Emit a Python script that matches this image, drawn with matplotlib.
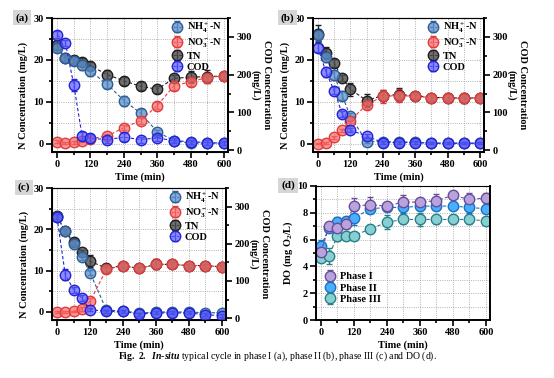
import matplotlib.pyplot as plt
from matplotlib.ticker import MultipleLocator

plt.rcParams['font.family'] = ['Liberation Serif', 'DejaVu Serif']
plt.rcParams['font.weight'] = 'bold'
plt.rcParams['axes.labelweight'] = 'bold'
plt.rcParams['font.size'] = 7.5
plt.rcParams['mathtext.fontset'] = 'custom'
plt.rcParams['mathtext.rm'] = 'Liberation Serif:bold'
plt.rcParams['mathtext.it'] = 'Liberation Serif:italic'
plt.rcParams['mathtext.bf'] = 'Liberation Serif:bold'
plt.rcParams['mathtext.default'] = 'regular'

time = [0, 30, 60, 90, 120, 180, 240, 300, 360, 420, 480, 540, 600]

# phase I (a)
nh4_a = [22.8, 20.5, 19.8, 18.8, 17.3, 14.2, 10.3, 7.3, 2.8, 0.7, 0.1, 0.1, 0.1]
nh4_a_err = [1.0, 1.0, 1.0, 1.2, 1.2, 1.0, 1.2, 1.0, 0.5, 0.4, 0.4, 0.4, 0.3]
no3_a = [0.5, 0.1, 0.3, 0.7, 1.2, 1.8, 3.8, 5.5, 9.1, 13.8, 14.8, 15.8, 16.2]
no3_a_err = [0.3, 0.3, 0.3, 0.4, 0.5, 0.6, 0.6, 0.8, 0.8, 1.0, 1.0, 1.0, 0.8]
tn_a = [23.5, 20.5, 20.0, 19.5, 18.6, 16.5, 15.0, 13.7, 13.0, 15.6, 15.9, 16.0, 16.2]
tn_a_err = [1.2, 1.0, 0.8, 1.0, 0.8, 1.0, 1.0, 1.0, 0.8, 0.8, 1.5, 1.6, 1.0]
cod_a = [306, 284, 173, 37, 31, 28, 34, 28, 32, 25, 22, 20, 18]
cod_a_err = [10, 8, 15, 10, 12, 10, 10, 8, 8, 6, 6, 6, 5]

# phase II (b)
nh4_b = [26.0, 20.8, 16.3, 11.5, 6.5, 0.5, 0.5, 0.4, 0.3, 0.1, 0.1, 0.1, 0.1]
nh4_b_err = [1.5, 1.2, 1.2, 1.0, 0.8, 0.3, 0.3, 0.3, 0.3, 0.2, 0.2, 0.2, 0.2]
no3_b = [0.0, 0.1, 1.5, 3.2, 5.5, 9.3, 11.3, 11.5, 11.3, 11.0, 11.0, 10.8, 11.0]
no3_b_err = [0.2, 0.2, 0.3, 0.4, 0.6, 1.0, 1.5, 1.5, 0.8, 0.8, 1.0, 1.2, 0.6]
tn_b = [26.3, 21.7, 19.3, 15.7, 13.0, 10.3, 11.5, 11.7, 11.5, 11.0, 11.0, 10.8, 11.0]
tn_b_err = [2.0, 1.5, 1.0, 0.8, 1.5, 1.5, 1.2, 1.5, 0.8, 0.8, 0.8, 1.0, 0.6]
cod_b = [272, 207, 158, 96, 53, 37, 20, 20, 20, 18, 18, 18, 18]
cod_b_err = [12, 14, 10, 8, 6, 5, 4, 4, 4, 3, 3, 3, 3]

# phase III (c)
nh4_c = [23.0, 19.5, 16.5, 13.3, 9.5, 0.4, 0.2, -0.3, -0.1, 0.0, -0.1, -0.2, -0.3]
nh4_c_err = [0.8, 0.6, 0.8, 0.8, 0.6, 0.3, 0.3, 0.3, 0.3, 0.3, 0.3, 0.5, 0.5]
no3_c = [0.0, 0.0, 0.1, 0.7, 2.5, 10.3, 11.2, 10.5, 11.5, 11.5, 11.2, 11.2, 10.9]
no3_c_err = [0.2, 0.2, 0.2, 0.4, 0.8, 0.6, 0.6, 0.5, 1.2, 0.6, 0.5, 0.5, 0.5]
tn_c = [23.2, 19.5, 17.0, 14.5, 12.3, 10.5, 11.2, 10.5, 11.5, 11.5, 11.2, 11.2, 10.9]
tn_c_err = [0.8, 0.6, 0.8, 0.6, 1.5, 0.8, 0.6, 0.5, 1.2, 0.6, 0.5, 0.5, 0.5]
cod_c = [271, 117, 77, 54, 23, 18, 18, 11, 14, 14, 14, 9, 7]
cod_c_err = [10, 15, 8, 8, 5, 4, 4, 4, 4, 4, 4, 4, 4]

# DO (d)
do_1 = [5.1, 7.0, 6.9, 7.2, 8.5, 8.6, 8.5, 8.8, 8.8, 8.9, 9.3, 9.0, 9.1]
do_1_err = [0.4, 0.3, 0.4, 0.4, 0.6, 0.6, 0.3, 0.5, 0.3, 0.5, 0.3, 0.5, 0.4]
do_2 = [5.5, 6.9, 7.3, 7.4, 7.6, 8.3, 8.4, 8.4, 8.5, 8.5, 8.5, 8.4, 8.3]
do_2_err = [0.5, 0.3, 0.4, 0.3, 0.5, 0.3, 0.3, 0.4, 0.3, 0.3, 0.3, 0.4, 0.3]
do_3 = [4.6, 4.8, 6.3, 6.3, 6.3, 6.8, 7.3, 7.5, 7.5, 7.5, 7.5, 7.5, 7.4]
do_3_err = [0.3, 0.6, 0.4, 0.3, 0.3, 0.3, 0.5, 0.3, 0.5, 0.3, 0.3, 0.3, 0.3]

nh4_style = dict(mfc=(0.36, 0.56, 0.80, 0.75), color='#2d5d94')
no3_style = dict(mfc=(0.97, 0.42, 0.42, 0.7), color='#e23b3b')
tn_style = dict(mfc=(0.30, 0.30, 0.30, 0.8), color='#1e1e1e')
cod_style = dict(mfc=(0.36, 0.36, 1.0, 0.7), color='#2323d6')


def series(ax, y, err, style, label):
    return ax.errorbar(time, y, yerr=err, fmt='o', ls=(0, (3, 2)), lw=0.8,
                       ms=7.5, mew=1.0, capsize=2, elinewidth=1.0, capthick=1.0,
                       mec=style['color'], mfc=style['mfc'], color=style['color'],
                       label=label)


def style_ticks(ax):
    ax.tick_params(which='both', direction='out', width=1.2, pad=2)
    ax.tick_params(which='major', length=4)
    ax.tick_params(which='minor', length=2.5)


def style_axis(ax):
    ax.set_xlim(-18, 615)
    ax.xaxis.set_major_locator(MultipleLocator(120))
    ax.xaxis.set_minor_locator(MultipleLocator(60))
    ax.grid(True, which='both', ls=':', lw=0.6, color='#9a9a9a')
    ax.set_axisbelow(True)
    for s in ax.spines.values():
        s.set_linewidth(1.4)
    ax.spines['top'].set_linewidth(0.8)
    style_ticks(ax)
    ax.set_xlabel('Time (min)', labelpad=2)


def n_panel(ax, nh4, nh4e, no3, no3e, tn, tne, cod, code):
    style_axis(ax)
    ax.set_ylim(-2, 30)
    ax.yaxis.set_major_locator(MultipleLocator(10))
    ax.yaxis.set_minor_locator(MultipleLocator(5))
    ax.set_ylabel('N Concentration (mg/L)', labelpad=2)
    ax.yaxis.set_label_coords(-0.135, 0.42)
    h_tn = series(ax, tn, tne, tn_style, 'TN')
    h_nh4 = series(ax, nh4, nh4e, nh4_style, r'NH$_4^+$-N')
    h_no3 = series(ax, no3, no3e, no3_style, r'NO$_3^-$-N')
    ax2 = ax.twinx()
    ax2.set_ylim(-5, 350)
    ax2.yaxis.set_major_locator(MultipleLocator(100))
    ax2.yaxis.set_minor_locator(MultipleLocator(50))
    ax2.spines['right'].set_linewidth(1.4)
    style_ticks(ax2)
    h_cod = series(ax2, cod, code, cod_style, 'COD')
    ax2.set_ylabel('COD Concentration\n(mg/L)', rotation=-90, va='bottom',
                   labelpad=-1, linespacing=1.25)
    ax2.legend([h_nh4, h_no3, h_tn, h_cod],
               [r'NH$_4^+$-N', r'NO$_3^-$-N', 'TN', 'COD'],
               loc='upper right', bbox_to_anchor=(1.0, 1.03), frameon=False,
               handlelength=0.8, handletextpad=0.5, labelspacing=0.15,
               borderaxespad=0.2)


fig = plt.figure(figsize=(5.54, 3.78), dpi=100)
ax_a = fig.add_axes([0.094, 0.598, 0.318, 0.354])
ax_b = fig.add_axes([0.565, 0.598, 0.309, 0.354])
ax_c = fig.add_axes([0.094, 0.1534, 0.314, 0.349])
ax_d = fig.add_axes([0.5704, 0.1534, 0.314, 0.3546])

n_panel(ax_a, nh4_a, nh4_a_err, no3_a, no3_a_err, tn_a, tn_a_err, cod_a, cod_a_err)
n_panel(ax_b, nh4_b, nh4_b_err, no3_b, no3_b_err, tn_b, tn_b_err, cod_b, cod_b_err)
n_panel(ax_c, nh4_c, nh4_c_err, no3_c, no3_c_err, tn_c, tn_c_err, cod_c, cod_c_err)

style_axis(ax_d)
ax_d.set_ylim(0, 10)
ax_d.yaxis.set_major_locator(MultipleLocator(2))
ax_d.yaxis.set_minor_locator(MultipleLocator(1))
ax_d.set_ylabel(r'DO (mg O$_2$/L)', labelpad=2)
ax_d.spines['right'].set_linewidth(1.4)
p1 = dict(mfc='#b9a3dc', color='#6a4c9c')
p2 = dict(mfc='#49aefc', color='#1f6fc0')
p3 = dict(mfc='#86d0d3', color='#2a7f86')
series(ax_d, do_3, do_3_err, p3, 'Phase III')
series(ax_d, do_2, do_2_err, p2, 'Phase II')
series(ax_d, do_1, do_1_err, p1, 'Phase I')
h, l = ax_d.get_legend_handles_labels()
ax_d.legend(h[::-1], l[::-1], loc='lower left', bbox_to_anchor=(0.0, 0.05),
            frameon=False, handlelength=0.8, handletextpad=0.6,
            labelspacing=0.2, fontsize=7.5)

box = dict(boxstyle='square,pad=0.25', fc='#d6d6d6', ec='none')
fig.text(0.040, 0.953, '(a)', ha='center', va='center', fontsize=8, bbox=box)
fig.text(0.519, 0.953, '(b)', ha='center', va='center', fontsize=8, bbox=box)
fig.text(0.043, 0.505, '(c)', ha='center', va='center', fontsize=8, bbox=box)
fig.text(0.520, 0.510, '(d)', ha='center', va='center', fontsize=8, bbox=box)

fig.text(0.5, 0.058,
         r'$\mathbf{Fig.\ 2.}$  $\mathit{In}$-$\mathit{situ}$ typical cycle in phase I (a), '
         r'phase II (b), phase III (c) and DO (d).',
         ha='center', va='center', fontsize=7, fontweight='normal')

fig.savefig('out.png', dpi=100)
